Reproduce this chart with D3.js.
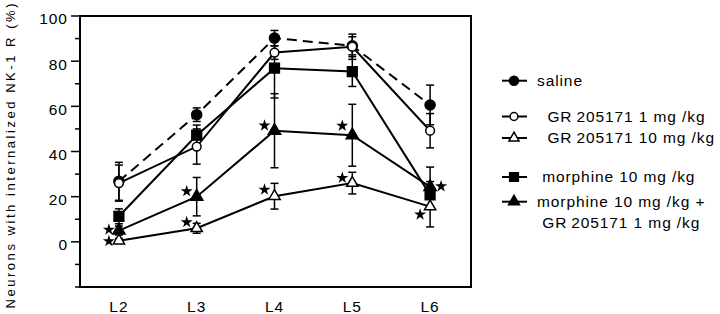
<!DOCTYPE html>
<html>
<head>
<meta charset="utf-8">
<script src="https://cdn.jsdelivr.net/npm/d3@7"></script>
<style>
body { margin:0; background:#fff; }
svg { display:block; font-family:"Liberation Sans", Arial, sans-serif; }
</style>
</head>
<body>
<div id="chart"></div>
<script>
// data
var levels = ["L2", "L3", "L4", "L5", "L6"];
var yTicks = [0, 20, 40, 60, 80, 100];

var saline      = [26.8, 56.3, 90.2, 86.8, 60.6];
var salineErr   = [8.4, 3.0, 3.4, 4.0, 8.8];
var gr1         = [26.0, 42.2, 83.8, 86.4, 49.2];
var gr1Err      = [8.0, 7.8, 3.0, 5.6, 7.6];
var gr10        = [0.5, 6.0, 20.2, 26.0, 15.6];
var gr10Err     = [1.0, 2.2, 5.7, 4.8, 9.0];
var morphine    = [11.3, 47.2, 76.9, 75.4, 20.8];
var morphineErr = [3.3, 4.5, 13.2, 6.6, 5.9];
var morphGr     = [5.0, 20.0, 49.2, 47.2, 24.3];
var morphGrErr  = [2.0, 8.5, 16.4, 13.7, 8.8];

// significance stars: level, value, side of the point
var starLevel = ["L2", "L2", "L3", "L3", "L4", "L4", "L5", "L5", "L6", "L6"];
var starValue = [0.3, 5.4, 8.7, 22.4, 23.1, 51.5, 28.3, 51.4, 12.1, 24.6];
var starSide  = ["l", "l", "l", "l", "l", "l", "l", "l", "l", "r"];

var seriesNames = ["saline", "  GR\u2009205171 1 mg /kg", "  GR\u2009205171 10 mg /kg", " morphine 10 mg /kg", "morphine 10 mg /kg +"];
var extraLine = " GR\u2009205171 1 mg /kg";

var width = 720, height = 314;
var margin = {top:16, right:249, bottom:27, left:80};

var series = [
    {name:seriesNames[0], v:saline,   e:salineErr,   sym:d3.symbolCircle,   size:80, fill:"#000", dash:"10,6"},
    {name:seriesNames[1], v:gr1,      e:gr1Err,      sym:d3.symbolCircle,   size:60, fill:"#fff", dash:null},
    {name:seriesNames[2], v:gr10,     e:gr10Err,     sym:d3.symbolTriangle, size:55, fill:"#fff", dash:null},
    {name:seriesNames[3], v:morphine, e:morphineErr, sym:d3.symbolSquare,   size:95, fill:"#000", dash:null},
    {name:seriesNames[4], v:morphGr,  e:morphGrErr,  sym:d3.symbolTriangle, size:65, fill:"#000", dash:null}
];

var svg = d3.select("#chart").append("svg")
    .attr("width", width)
    .attr("height", height);

var x = d3.scalePoint()
    .domain(levels)
    .range([margin.left, width - margin.right - 2])
    .padding(0.5);

var y = d3.scaleLinear()
    .domain([-20, 100])
    .range([height - margin.bottom, margin.top]);

var plotL = margin.left, plotR = width - margin.right, plotT = margin.top, plotB = height - margin.bottom;

// frame
svg.append("rect")
    .attr("x", plotL).attr("y", plotT)
    .attr("width", plotR - plotL).attr("height", plotB - plotT)
    .attr("fill", "none").attr("stroke", "#000").attr("stroke-width", 2);

// y ticks
var minor = d3.range(-10, 100, 20);
svg.selectAll(".ytick").data(yTicks).enter().append("line")
    .attr("class", "ytick")
    .attr("x1", plotL - 9).attr("x2", plotL)
    .attr("y1", function(d){ return y(d); }).attr("y2", function(d){ return y(d); })
    .attr("stroke", "#000").attr("stroke-width", 1.5);
svg.selectAll(".ymin").data(minor.concat([-20])).enter().append("line")
    .attr("class", "ymin")
    .attr("x1", plotL - 5).attr("x2", plotL)
    .attr("y1", function(d){ return y(d); }).attr("y2", function(d){ return y(d); })
    .attr("stroke", "#000").attr("stroke-width", 1.5);
svg.selectAll(".ylab").data(yTicks).enter().append("text")
    .attr("class", "ylab")
    .attr("x", plotL - 12)
    .attr("y", function(d){ return y(d) + 3; })
    .attr("dy", "0.35em")
    .attr("text-anchor", "end")
    .style("font-size", "15.5px")
    .style("letter-spacing", "1px")
    .text(function(d){ return d; });

// x labels
svg.selectAll(".xlab").data(levels).enter().append("text")
    .attr("class", "xlab")
    .attr("x", function(d){ return x(d); })
    .attr("y", 312)
    .attr("text-anchor", "middle")
    .style("font-size", "15.5px")
    .style("letter-spacing", "1px")
    .text(function(d){ return d; });

// y title
svg.append("text")
    .attr("transform", "translate(15," + 156 + ") rotate(-90)")
    .attr("text-anchor", "middle")
    .attr("textLength", 305)
    .attr("lengthAdjust", "spacing")
    .style("font-size", "13px")
    .text("Neurons with internalized NK-1 R (%)");

var line = d3.line()
    .x(function(d, i){ return x(levels[i]); })
    .y(function(d){ return y(d); });

// lines
svg.selectAll(".sline").data(series).enter().append("path")
    .attr("class", "sline")
    .attr("d", function(s){ return line(s.v); })
    .attr("fill", "none")
    .attr("stroke", "#000")
    .attr("stroke-width", 2)
    .attr("stroke-dasharray", function(s){ return s.dash; });

// error bars
series.forEach(function(s){
    var g = svg.append("g");
    s.v.forEach(function(v, i){
        var cx = x(levels[i]);
        g.append("line")
            .attr("x1", cx).attr("x2", cx)
            .attr("y1", y(v - s.e[i])).attr("y2", y(v + s.e[i]))
            .attr("stroke", "#000").attr("stroke-width", 1.5);
        [v - s.e[i], v + s.e[i]].forEach(function(t){
            g.append("line")
                .attr("x1", cx - 4).attr("x2", cx + 4)
                .attr("y1", y(t)).attr("y2", y(t))
                .attr("stroke", "#000").attr("stroke-width", 1.5);
        });
    });
});

// markers
series.forEach(function(s){
    svg.append("g").selectAll("path").data(s.v).enter().append("path")
        .attr("transform", function(d, i){ return "translate(" + x(levels[i]) + "," + y(d) + ")"; })
        .attr("d", d3.symbol().type(s.sym).size(s.size))
        .attr("fill", s.fill)
        .attr("stroke", "#000")
        .attr("stroke-width", 1.5);
});

// stars
svg.selectAll(".star").data(starValue).enter().append("path")
    .attr("class", "star")
    .attr("transform", function(d, i){
        var dx = starSide[i] == "r" ? 11 : -10;
        return "translate(" + (x(starLevel[i]) + dx) + "," + y(d) + ")";
    })
    .attr("d", d3.symbol().type(d3.symbolStar).size(45))
    .attr("fill", "#000");

// legend
var legY = [80.7, 116.5, 138, 177, 201.7];
var leg = svg.append("g").attr("class", "legend");
series.forEach(function(s, i){
    leg.append("line")
        .attr("x1", 502).attr("x2", 527)
        .attr("y1", legY[i]).attr("y2", legY[i])
        .attr("stroke", "#000").attr("stroke-width", 2);
    leg.append("path")
        .attr("transform", "translate(514," + legY[i] + ")")
        .attr("d", d3.symbol().type(s.sym).size(s.size * 0.8))
        .attr("fill", s.fill)
        .attr("stroke", "#000")
        .attr("stroke-width", 1.5);
    leg.append("text")
        .attr("x", 537)
        .attr("y", legY[i])
        .attr("dy", "0.35em")
        .style("font-size", "15.5px")
        .style("letter-spacing", "0.9px")
        .style("white-space", "pre")
        .text(s.name);
});
leg.append("text")
    .attr("x", 537)
    .attr("y", 223)
    .attr("dy", "0.35em")
    .style("font-size", "15.5px")
    .style("letter-spacing", "0.9px")
    .style("white-space", "pre")
    .text(extraLine);
</script>
</body>
</html>
